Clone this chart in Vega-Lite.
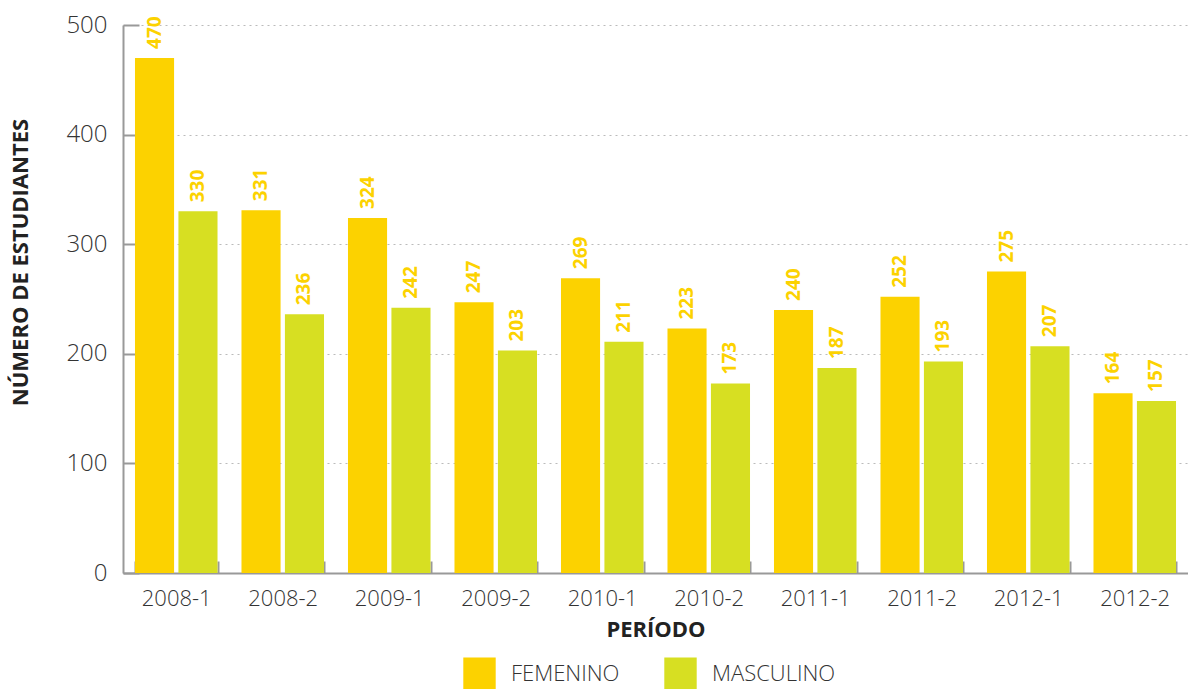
{
  "$schema": "https://vega.github.io/schema/vega-lite/v6.json",
  "width": 1065,
  "height": 548,
  "autosize": {"type": "none"},
  "padding": {"left": 123, "top": 25, "right": 0, "bottom": 116},
  "background": "white",
  "data": {
    "values": [
      {"periodo": "2008-1", "sexo": "FEMENINO", "n": 470},
      {"periodo": "2008-1", "sexo": "MASCULINO", "n": 330},
      {"periodo": "2008-2", "sexo": "FEMENINO", "n": 331},
      {"periodo": "2008-2", "sexo": "MASCULINO", "n": 236},
      {"periodo": "2009-1", "sexo": "FEMENINO", "n": 324},
      {"periodo": "2009-1", "sexo": "MASCULINO", "n": 242},
      {"periodo": "2009-2", "sexo": "FEMENINO", "n": 247},
      {"periodo": "2009-2", "sexo": "MASCULINO", "n": 203},
      {"periodo": "2010-1", "sexo": "FEMENINO", "n": 269},
      {"periodo": "2010-1", "sexo": "MASCULINO", "n": 211},
      {"periodo": "2010-2", "sexo": "FEMENINO", "n": 223},
      {"periodo": "2010-2", "sexo": "MASCULINO", "n": 173},
      {"periodo": "2011-1", "sexo": "FEMENINO", "n": 240},
      {"periodo": "2011-1", "sexo": "MASCULINO", "n": 187},
      {"periodo": "2011-2", "sexo": "FEMENINO", "n": 252},
      {"periodo": "2011-2", "sexo": "MASCULINO", "n": 193},
      {"periodo": "2012-1", "sexo": "FEMENINO", "n": 275},
      {"periodo": "2012-1", "sexo": "MASCULINO", "n": 207},
      {"periodo": "2012-2", "sexo": "FEMENINO", "n": 164},
      {"periodo": "2012-2", "sexo": "MASCULINO", "n": 157}
    ]
  },
  "encoding": {
    "x": {
      "field": "periodo",
      "type": "nominal",
      "title": "PERÍODO",
      "scale": {"paddingInner": 0.225, "paddingOuter": 0.1125},
      "axis": {
        "labelAngle": 0,
        "tickBand": "extent",
        "tickSize": -12,
        "tickColor": "#999999",
        "tickWidth": 2,
        "domainColor": "#999999",
        "domainWidth": 2,
        "labelFont": "Open Sans",
        "labelFontWeight": 300,
        "labelFontSize": 22,
        "labelColor": "#333333",
        "labelPadding": 27,
        "titleFont": "Open Sans",
        "titleFontWeight": "bold",
        "titleFontSize": 22,
        "titleColor": "#222222",
        "titlePadding": 10
      }
    },
    "xOffset": {"field": "sexo", "type": "nominal", "scale": {"paddingInner": 0.1}},
    "y": {
      "field": "n",
      "type": "quantitative",
      "title": "NÚMERO DE ESTUDIANTES",
      "scale": {"domain": [0, 500], "nice": false},
      "axis": {
        "values": [0, 100, 200, 300, 400, 500],
        "tickSize": -16,
        "tickColor": "#999999",
        "tickWidth": 2,
        "domainColor": "#999999",
        "domainWidth": 2,
        "grid": true,
        "gridColor": "#bbbbbb",
        "gridDash": [2, 4],
        "gridWidth": 1,
        "labelFont": "Open Sans",
        "labelFontWeight": 300,
        "labelFontSize": 24,
        "labelColor": "#333333",
        "labelPadding": 32,
        "titleFont": "Open Sans",
        "titleFontWeight": "bold",
        "titleFontSize": 22,
        "titleColor": "#222222",
        "titleX": -91,
        "titleY": 237
      }
    }
  },
  "layer": [
    {
      "mark": {"type": "bar"},
      "encoding": {
        "color": {
          "field": "sexo",
          "type": "nominal",
          "title": null,
          "scale": {"domain": ["FEMENINO", "MASCULINO"], "range": ["#FCD200", "#D7DF22"]},
          "legend": {
            "orient": "none",
            "direction": "horizontal",
            "legendX": 340,
            "legendY": 632,
            "symbolType": "square",
            "symbolSize": 1050,
            "symbolStrokeWidth": 0,
            "symbolOpacity": 1,
            "labelFont": "Open Sans",
            "labelFontWeight": 300,
            "labelFontSize": 22,
            "labelColor": "#333333",
            "labelOffset": 15,
            "columnPadding": 44,
            "labelLimit": 300
          }
        }
      }
    },
    {
      "mark": {
        "type": "text",
        "angle": -90,
        "align": "left",
        "baseline": "middle",
        "dx": 9,
        "font": "Open Sans",
        "fontWeight": "bold",
        "fontSize": 19,
        "color": "#FCD200"
      },
      "encoding": {"text": {"field": "n", "type": "quantitative"}}
    }
  ],
  "config": {"view": {"stroke": null}}
}
